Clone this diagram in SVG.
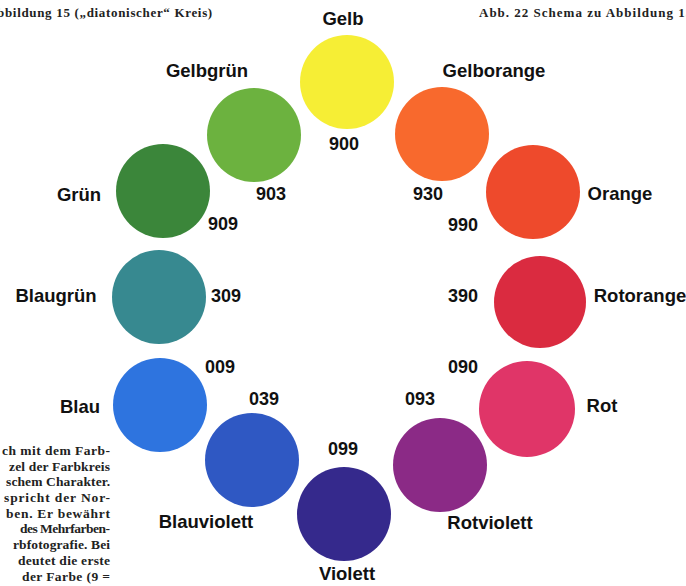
<svg xmlns="http://www.w3.org/2000/svg" width="686" height="586" viewBox="0 0 686 586">
<style>
.lbl{font-family:"Liberation Sans",Arial,sans-serif;font-weight:bold;font-size:18.5px;fill:#111;text-anchor:middle}
.num{font-family:"Liberation Sans",Arial,sans-serif;font-weight:bold;font-size:18px;fill:#111;text-anchor:middle}
.hdr{font-family:"Liberation Serif","Times New Roman",serif;font-weight:bold;font-size:13px;fill:#222;letter-spacing:0.8px}
.par{font-family:"Liberation Serif","Times New Roman",serif;font-weight:bold;font-size:13.5px;fill:#222;text-anchor:end}
</style>
<rect width="686" height="586" fill="#ffffff"/>
<g id="header">
<text class="hdr" x="-13" y="17" textLength="226" lengthAdjust="spacing">Abbildung 15 („diatonischer“ Kreis)</text>
<text class="hdr" x="479" y="17" style="letter-spacing:1px">Abb. 22 Schema zu Abbildung 15</text>
</g>
<g id="connectors"></g>
<g id="gelb"><circle cx="347" cy="82" r="47" fill="#f6ee35"/><text class="lbl" x="343" y="25">Gelb</text><text class="num" x="344" y="150">900</text></g>
<g id="gelbgruen"><circle cx="254" cy="135" r="47" fill="#6cb23f"/><text class="lbl" x="207" y="77">Gelbgrün</text><text class="num" x="271" y="200">903</text></g>
<g id="gelborange"><circle cx="442" cy="134" r="47" fill="#f8692d"/><text class="lbl" x="494" y="77">Gelborange</text><text class="num" x="428" y="200">930</text></g>
<g id="gruen"><circle cx="163" cy="191" r="47" fill="#3b863a"/><text class="lbl" x="79" y="201">Grün</text><text class="num" x="223" y="230">909</text></g>
<g id="orange"><circle cx="533" cy="192" r="47" fill="#ee4a2c"/><text class="lbl" x="620" y="200">Orange</text><text class="num" x="463" y="231">990</text></g>
<g id="blaugruen"><circle cx="159" cy="297" r="47" fill="#378990"/><text class="lbl" x="56" y="302">Blaugrün</text><text class="num" x="226" y="302">309</text></g>
<g id="rotorange"><circle cx="540" cy="302" r="46" fill="#da2b40"/><text class="lbl" x="640" y="302">Rotorange</text><text class="num" x="463" y="302">390</text></g>
<g id="blau"><circle cx="160" cy="405" r="47" fill="#2e74df"/><text class="lbl" x="80" y="413">Blau</text><text class="num" x="220" y="373">009</text></g>
<g id="rot"><circle cx="527" cy="409" r="48" fill="#e03568"/><text class="lbl" x="602" y="412">Rot</text><text class="num" x="463" y="373">090</text></g>
<g id="blauviolett"><circle cx="252" cy="460" r="47" fill="#2f58c3"/><text class="lbl" x="206" y="528">Blauviolett</text><text class="num" x="264" y="405">039</text></g>
<g id="rotviolett"><circle cx="440" cy="465" r="47" fill="#8b2a86"/><text class="lbl" x="490" y="529">Rotviolett</text><text class="num" x="420" y="405">093</text></g>
<g id="violett"><circle cx="344" cy="514" r="47" fill="#35298c"/><text class="lbl" x="347" y="580">Violett</text><text class="num" x="343" y="455">099</text></g>
<g id="paragraph">
<text class="par" x="110" y="455" textLength="108" lengthAdjust="spacing">ch mit dem Farb-</text>
<text class="par" x="110" y="471" textLength="101" lengthAdjust="spacing">zel der Farbkreis</text>
<text class="par" x="110" y="486" textLength="104" lengthAdjust="spacing">schem Charakter.</text>
<text class="par" x="110" y="502" textLength="106" lengthAdjust="spacing">spricht der Nor-</text>
<text class="par" x="110" y="518" textLength="104" lengthAdjust="spacing">ben. Er bewährt</text>
<text class="par" x="110" y="533" textLength="90" lengthAdjust="spacing">des Mehrfarben-</text>
<text class="par" x="110" y="549" textLength="97" lengthAdjust="spacing">rbfotografie. Bei</text>
<text class="par" x="110" y="565" textLength="92" lengthAdjust="spacing">deutet die erste</text>
<text class="par" x="110" y="581" textLength="88" lengthAdjust="spacing">der Farbe (9 =</text>
</g>
</svg>
